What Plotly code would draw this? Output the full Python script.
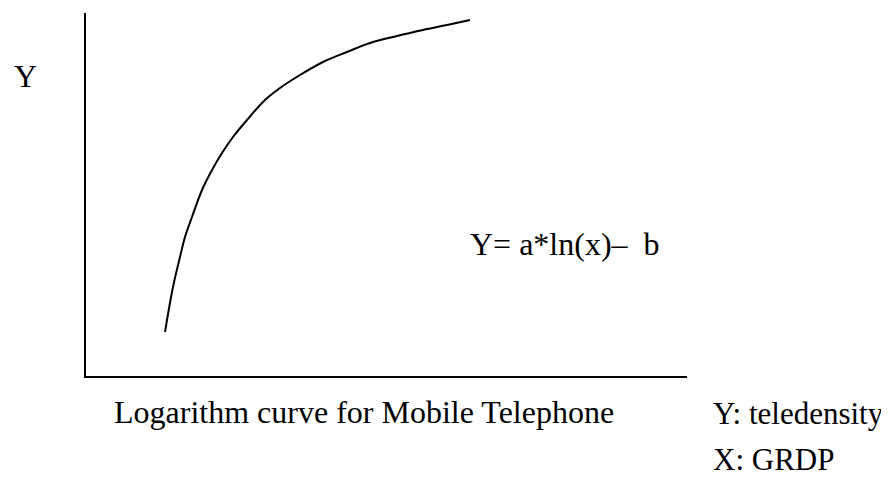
import plotly.graph_objs as go

# curve points (arbitrary units, origin at the axes corner)
curveX = [79, 87, 94, 99, 106, 116, 126, 136, 147, 161, 179, 194, 214, 237, 261, 284, 311, 337, 361, 384]
curveY = [44, 89, 119, 139, 159, 186, 206, 223, 239, 256, 276, 288, 301, 314, 324, 333, 340, 346, 351, 356]

yLabel = 'Y'
formula = 'Y= a*ln(x)\u2013\u00a0\u00a0b'
caption = 'Logarithm curve for Mobile Telephone'
legendLines = ['Y: teledensity', 'X: GRDP']

# the page body has an 8px margin, so the figure is drawn 8px smaller
OFF = 8
W, H = 889 - OFF, 479 - OFF
L, R, T, B = 86 - OFF, 202, 13 - OFF, 103
fontFace = 'Liberation Serif, Times New Roman, serif'


def px(x, y):
    # window pixel position -> paper coordinates
    x, y = x - OFF, y - OFF
    return (x - L) / (W - L - R), (H - B - y) / (H - T - B)


def label(text, x, y, size=32):
    xp, yp = px(x, y)
    return dict(
        text=text, x=xp, y=yp, xref='paper', yref='paper',
        xanchor='left', yanchor='middle', showarrow=False,
        font=dict(family=fontFace, size=size, color='black')
    )


fig = go.Figure(
    data=[
        go.Scatter(
            x=curveX, y=curveY, mode='lines',
            line=dict(color='black', width=2, shape='spline', smoothing=1.0),
            hoverinfo='skip'
        )
    ],
    layout=go.Layout(
        width=W, height=H,
        margin=dict(l=L, r=R, t=T, b=B),
        paper_bgcolor='white', plot_bgcolor='white',
        showlegend=False,
        xaxis=dict(range=[0, W - L - R], showline=True, linecolor='black', linewidth=2,
                   showgrid=False, zeroline=False, showticklabels=False, ticks=''),
        yaxis=dict(range=[0, H - T - B], showline=True, linecolor='black', linewidth=2,
                   showgrid=False, zeroline=False, showticklabels=False, ticks=''),
        annotations=[
            label(yLabel, 12, 76),
            label(formula, 468, 244),
            label(caption, 112, 412),
            label(legendLines[0], 711, 413, 31),
            label(legendLines[1], 711, 459, 31),
        ]
    )
)

fig.write_html("out.html")
